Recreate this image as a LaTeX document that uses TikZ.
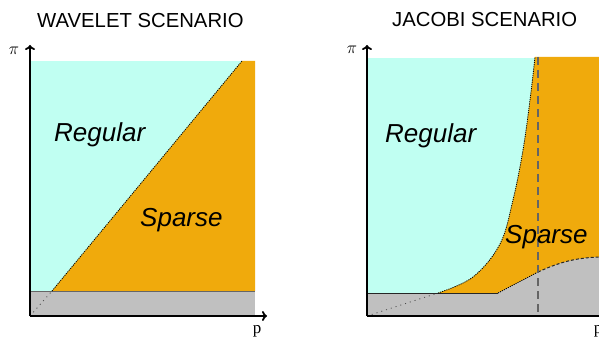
\documentclass[tikz,border=0pt]{standalone}
\usepackage{fontspec}
\setmainfont{Liberation Sans}
\newfontfamily\serifface{Liberation Serif}
\usetikzlibrary{arrows.meta}
\definecolor{regcol}{RGB}{192,255,242}
\definecolor{sparcol}{RGB}{240,170,12}
\definecolor{graycol}{RGB}{192,192,192}
\definecolor{dashcol}{RGB}{100,100,100}
\tikzset{
  axis/.style={line width=2.6pt, -{To[length=5pt,width=10pt,line width=1.8pt]}},
  title/.style={font=\fontsize{20.3}{23}\selectfont, anchor=base west, inner sep=0pt},
  region/.style={font=\fontsize{26}{30}\itshape, anchor=base west, inner sep=0pt},
  axlabel/.style={font=\serifface\fontsize{17}{19}\selectfont, inner sep=0pt},
  fineline/.style={line width=0.8pt, black, dash pattern=on 1.2pt off 1pt},
  sparsedot/.style={line width=0.8pt, black!70, dash pattern=on 1pt off 4pt},
}
\begin{document}
\begin{tikzpicture}[x=1pt,y=-1pt]
\useasboundingbox (0,0) rectangle (599,339);
\clip (0,0) rectangle (599,339);
\fill[white] (0,0) rectangle (599,339);

% ---------- Wavelet ----------
\fill[regcol] (30,61) rectangle (255,291);
\fill[sparcol] (52,291) -- (242,61) -- (255,61) -- (255,291) -- cycle;
\fill[graycol] (30,291) rectangle (255,316);
\draw[line width=0.9pt, black!60] (30,291) -- (255,291);
\draw[fineline] (52,291) -- (242,61);
\draw[sparsedot] (30,316) -- (52,291);
\coordinate (LO) at (30,316);
\coordinate (LY) at (30,45);
\coordinate (LX) at (267,316);
\draw[axis] (LO) -- (LY);
\draw[axis] (LO) -- (LX);
\node[axlabel] (lpi) at (14,51) {$\pi$};
\node[axlabel] (lp) at (257,331) {p};
\node[title] (lt) at (37,28) {WAVELET SCENARIO};
\node[region] (lreg) at (54,142) {Regular};
\node[region] (lspa) at (140,226) {Sparse};

% ---------- Jacobi ----------
\fill[regcol] (367,58) rectangle (599,293);
\fill[sparcol] plot[smooth, tension=0.6] coordinates {(438,293) (473,277) (500,244) (513,200) (523,150) (530,100) (535,57)}
  -- (599,57) -- (599,293) -- cycle;
\fill[graycol] (367,293) -- (498,293) -- (538,272) .. controls (560,262) and (575,258) .. (599,257) -- (599,316) -- (367,316) -- cycle;
\draw[line width=1pt, black!85] (367,293) -- (498,293);
\draw[fineline] plot[smooth, tension=0.6] coordinates {(438,293) (473,277) (500,244) (513,200) (523,150) (530,100) (535,57)};
\draw[fineline] (498,293) -- (538,272);
\draw[line width=1pt, black!85, dash pattern=on 3pt off 2pt] (538,272) .. controls (560,262) and (575,258) .. (599,257);
\draw[sparsedot] (367,316) -- (438,293);
\draw[dashcol, line width=1.3pt, dash pattern=on 8pt off 5pt] (538,57) -- (538,316);
\coordinate (RO) at (367,316);
\coordinate (RY) at (367,45);
\coordinate (RX) at (605,316);
\draw[axis] (RO) -- (RY);
\draw[axis] (RO) -- (RX);
\node[axlabel] (rpi) at (352,50) {$\pi$};
\node[axlabel] (rp) at (598,331) {p};
\node[title] (rt) at (392,27) {JACOBI SCENARIO};
\node[region] (rreg) at (385,143) {Regular};
\node[region] (rspa) at (505,243) {Sparse};
\end{tikzpicture}
\end{document}
